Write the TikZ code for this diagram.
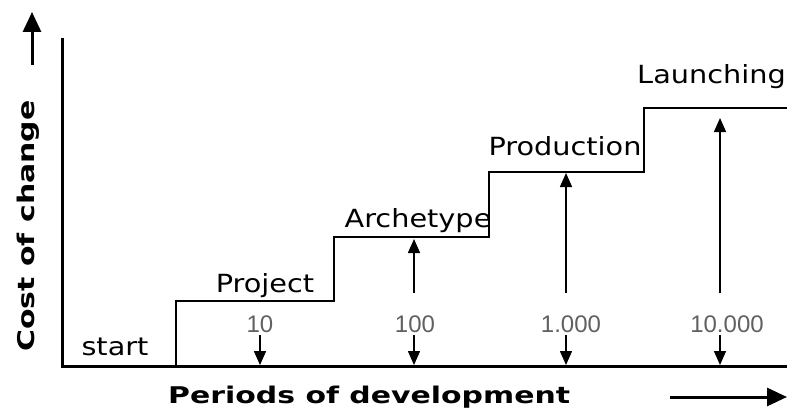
\documentclass[tikz,border=0pt]{standalone}
\usepackage{fontspec}
\setmainfont{DejaVu Sans}
\newfontfamily\lblfont[FakeStretch=1.15]{DejaVu Sans}
\newfontfamily\ttlfont[FakeStretch=1.3]{DejaVu Sans}
\newfontfamily\numfont{Liberation Sans}
\usetikzlibrary{arrows.meta}
\definecolor{numgray}{gray}{0.38}
\tikzset{
  axisline/.style={line width=3pt},
  stepline/.style={line width=2pt},
  smallarrow/.style={line width=1.5pt,-{Triangle[length=14pt,width=12pt]}},
  bigarrow/.style={line width=3pt,-{Triangle[length=20pt,width=18pt]}},
  lbl/.style={inner sep=0pt,anchor=base,font=\lblfont\fontsize{25}{29}\selectfont},
  num/.style={inner sep=0pt,anchor=base,text=numgray,font=\numfont\fontsize{24}{28}\selectfont},
  ttl/.style={inner sep=0pt,font=\ttlfont\bfseries\fontsize{23}{27}\selectfont}
}
\begin{document}
\begin{tikzpicture}[x=1pt,y=-1pt]
\useasboundingbox (0,0) rectangle (787,412);
% axes
\coordinate (ytop) at (62,38);
\coordinate (orig) at (62,366);
\coordinate (xend) at (790,366);
\draw[axisline] (ytop) -- (orig) -- (xend);
% steps
\coordinate (s0) at (176,366);
\coordinate (s1) at (176,301);
\coordinate (s2) at (334,301);
\coordinate (s3) at (334,237);
\coordinate (s4) at (489,237);
\coordinate (s5) at (489,172);
\coordinate (s6) at (644,172);
\coordinate (s7) at (644,108);
\coordinate (s8) at (790,108);
\draw[stepline] (s0) -- (s1) -- (s2) -- (s3) -- (s4) -- (s5) -- (s6) -- (s7) -- (s8);
% labels
\node[lbl] (start) at (115,355) {start};
\node[lbl] (project) at (265,292) {Project};
\node[lbl] (archetype) at (418,227) {Archetype};
\node[lbl] (production) at (565,155) {Production};
\node[lbl,anchor=base east] (launching) at (786,83) {Launching};
% numbers
\node[num] (n1) at (260,332) {10};
\node[num] (n2) at (415,332) {100};
\node[num] (n3) at (571,332) {1.000};
\node[num] (n4) at (727,332) {10.000};
% small down arrows
\foreach \i/\x in {1/260,2/414,3/566,4/720}{
  \coordinate (d\i a) at (\x,335);
  \coordinate (d\i b) at (\x,365);
  \draw[smallarrow] (d\i a) -- (d\i b);
}
% up arrows
\coordinate (u1a) at (414,293);
\coordinate (u1b) at (414,239);
\coordinate (u2a) at (566,293);
\coordinate (u2b) at (566,173);
\coordinate (u3a) at (720,293);
\coordinate (u3b) at (720,118);
\draw[smallarrow] (u1a) -- (u1b);
\draw[smallarrow] (u2a) -- (u2b);
\draw[smallarrow] (u3a) -- (u3b);
% axis titles
\node[ttl,rotate=90] (ylab) at (28,226) {Cost of change};
\node[ttl,anchor=base west] (xlab) at (168,403) {Periods of development};
\coordinate (ya) at (32,65);
\coordinate (yb) at (32,12);
\draw[bigarrow] (ya) -- (yb);
\coordinate (xa) at (670,397);
\coordinate (xb) at (787,397);
\draw[bigarrow] (xa) -- (xb);
\end{tikzpicture}
\end{document}
